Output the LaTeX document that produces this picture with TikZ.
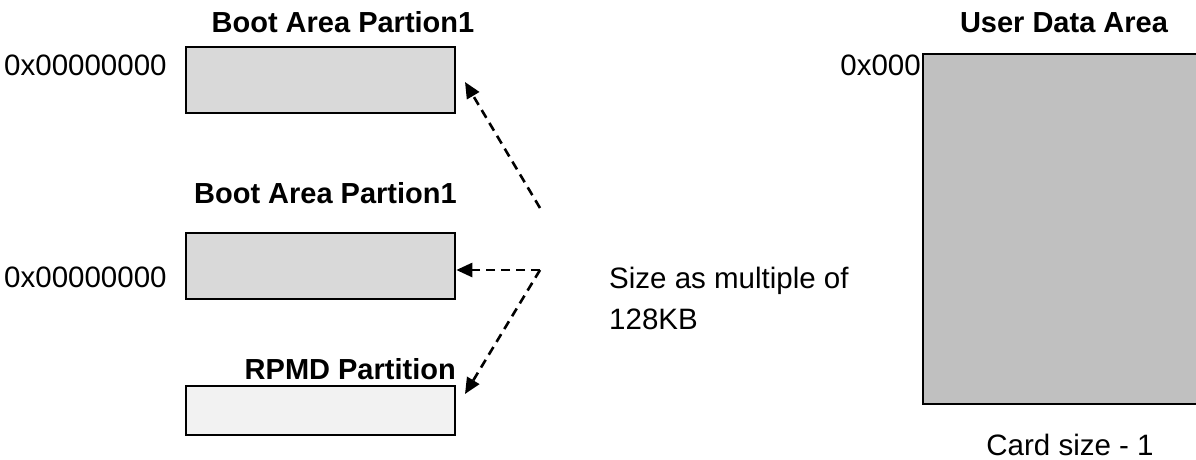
\documentclass[tikz,border=0pt]{standalone}
\usepackage{fontspec}
\setmainfont{Liberation Sans}
\usetikzlibrary{arrows.meta}
\definecolor{bootgray}{HTML}{D9D9D9}
\definecolor{rpmdgray}{HTML}{F2F2F2}
\definecolor{usergray}{HTML}{C0C0C0}
\tikzset{
  partbox/.style={draw=black, line width=2.6pt, inner sep=0pt, minimum width=269pt},
  lbl/.style={inner sep=0pt, font=\fontsize{29.5}{35}\selectfont},
  ttl/.style={inner sep=0pt, font=\fontsize{29}{35}\selectfont\bfseries},
  dasharrow/.style={line width=2.6pt, dash pattern=on 9pt off 6pt,
    -{Triangle[length=16pt,width=14pt]}}
}
\begin{document}
\begin{tikzpicture}[x=1pt,y=-1pt]
\useasboundingbox (0,0) rectangle (1196,460);
\fill[white] (0,0) rectangle (1196,460);
% left boxes
\node[partbox, fill=bootgray, minimum height=66pt] (box1) at (320.5,80) {};
\node[partbox, fill=bootgray, minimum height=66pt] (box2) at (320.5,266) {};
\node[partbox, fill=rpmdgray, minimum height=49pt] (box3) at (320.5,410.5) {};
% right box (extends past the right edge)
\node[draw=black, line width=2.4pt, fill=usergray, inner sep=0pt,
      minimum width=300pt, minimum height=350pt, anchor=north west] (userbox) at (922,53) {};
% titles
\node[ttl, anchor=base] (t1) at (343,33) {Boot Area Partion1};
\node[ttl, anchor=base east] (t2) at (457,203) {Boot Area Partion1};
\node[ttl, anchor=base east] (t3) at (456,379) {RPMD Partition};
\node[ttl, anchor=base] (t4) at (1064,33) {User Data Area};
% address labels
\node[lbl, anchor=base west] (a1) at (4,75) {0x00000000};
\node[lbl, anchor=base west] (a2) at (4,287) {0x00000000};
\node[lbl, anchor=base east] (a3) at (921,75) {0x000};
% side notes
\node[lbl, anchor=base west] (s1) at (609,288) {Size as multiple of};
\node[lbl, anchor=base west] (s2) at (609,329) {128KB};
\node[lbl, anchor=base] (c1) at (1070,455) {Card size - 1};
% arrows
\coordinate (j1) at (540,208);
\coordinate (j2) at (540,270);
\coordinate (e1) at (465,82);
\coordinate (e3) at (465,394);
\draw[dasharrow] (j1) -- (e1);
\draw[dasharrow] (j2) -- (j2 -| box2.east);
\draw[dasharrow] (j2) -- (e3);
\end{tikzpicture}
\end{document}
